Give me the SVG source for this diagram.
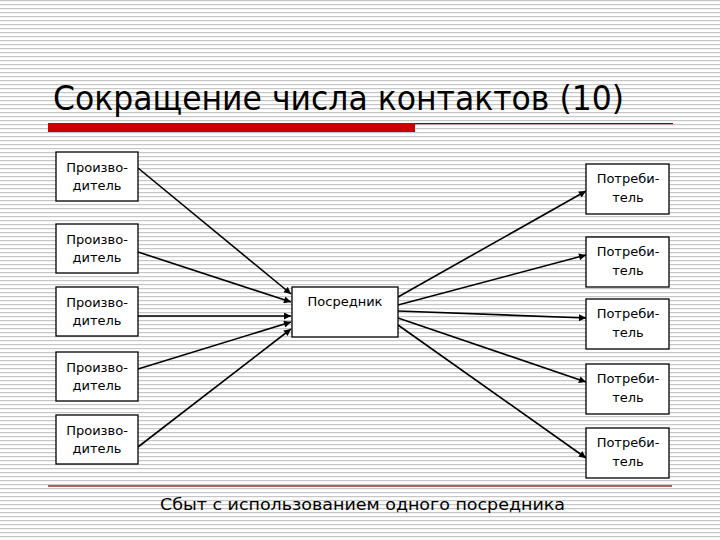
<svg xmlns="http://www.w3.org/2000/svg" width="720" height="540" viewBox="0 0 720 540">
<defs>
<pattern id="stripes" width="8" height="4" patternUnits="userSpaceOnUse">
<rect width="8" height="4" fill="#ffffff"/>
<rect y="0" width="8" height="1.2" fill="#c6c6c6"/>
</pattern>
<marker id="arr" viewBox="0 0 10 10" refX="10" refY="5" markerWidth="9" markerHeight="7" markerUnits="userSpaceOnUse" orient="auto">
<path d="M0,0 L10,5 L0,10 Z" fill="#000"/>
</marker>
<style>
.box{fill:#fff;stroke:#000;stroke-width:1.3}
.lbl{font-family:"DejaVu Sans","Noto Sans",sans-serif;font-size:13px;fill:#000;text-anchor:middle}
.con{stroke:#000;stroke-width:1.6;fill:none;marker-end:url(#arr)}
</style>
</defs>
<rect width="720" height="540" fill="url(#stripes)"/>
<text x="53" y="110" font-family="'DejaVu Sans','Noto Sans',sans-serif" font-size="34" fill="#000" textLength="571" lengthAdjust="spacingAndGlyphs">Сокращение числа контактов (10)</text>
<rect x="48" y="123" width="367" height="9" fill="#cc0000"/>
<rect x="415" y="123" width="258" height="1.2" fill="#800000"/>
<rect x="48" y="485.4" width="624" height="1.2" fill="#800000"/>

<g id="connectors">
<line class="con" x1="138" y1="168" x2="291" y2="294"/>
<line class="con" x1="138" y1="252" x2="291" y2="302"/>
<line class="con" x1="138" y1="316" x2="291" y2="316"/>
<line class="con" x1="138" y1="369" x2="291" y2="322"/>
<line class="con" x1="138" y1="447" x2="291" y2="329"/>
<line class="con" x1="398" y1="297" x2="586" y2="191"/>
<line class="con" x1="398" y1="305" x2="586" y2="255"/>
<line class="con" x1="398" y1="311" x2="586" y2="318"/>
<line class="con" x1="398" y1="318" x2="586" y2="382"/>
<line class="con" x1="398" y1="325" x2="586" y2="458"/>
</g>

<g id="prod1"><rect class="box" x="56" y="152" width="82" height="49"/><text class="lbl" x="97" y="172">Произво-</text><text class="lbl" x="97" y="190">дитель</text></g>
<g id="prod2"><rect class="box" x="56" y="224" width="82" height="49"/><text class="lbl" x="97" y="244">Произво-</text><text class="lbl" x="97" y="262">дитель</text></g>
<g id="prod3"><rect class="box" x="56" y="287" width="82" height="49"/><text class="lbl" x="97" y="307">Произво-</text><text class="lbl" x="97" y="325">дитель</text></g>
<g id="prod4"><rect class="box" x="56" y="352" width="82" height="49"/><text class="lbl" x="97" y="372">Произво-</text><text class="lbl" x="97" y="390">дитель</text></g>
<g id="prod5"><rect class="box" x="56" y="415" width="82" height="49"/><text class="lbl" x="97" y="435">Произво-</text><text class="lbl" x="97" y="453">дитель</text></g>

<g id="mediator"><rect class="box" x="292" y="287" width="106" height="50"/><text class="lbl" x="345" y="306">Посредник</text></g>

<g id="cons1"><rect class="box" x="586" y="164" width="83" height="50"/><text class="lbl" x="628" y="183">Потреби-</text><text class="lbl" x="628" y="202">тель</text></g>
<g id="cons2"><rect class="box" x="586" y="237" width="83" height="50"/><text class="lbl" x="628" y="256">Потреби-</text><text class="lbl" x="628" y="275">тель</text></g>
<g id="cons3"><rect class="box" x="586" y="299" width="83" height="50"/><text class="lbl" x="628" y="318">Потреби-</text><text class="lbl" x="628" y="337">тель</text></g>
<g id="cons4"><rect class="box" x="586" y="364" width="83" height="50"/><text class="lbl" x="628" y="383">Потреби-</text><text class="lbl" x="628" y="402">тель</text></g>
<g id="cons5"><rect class="box" x="586" y="428" width="83" height="50"/><text class="lbl" x="628" y="447">Потреби-</text><text class="lbl" x="628" y="466">тель</text></g>

<text x="160" y="510" font-family="'DejaVu Sans','Noto Sans',sans-serif" font-size="16" fill="#000" textLength="405" lengthAdjust="spacingAndGlyphs">Сбыт с использованием одного посредника</text>
</svg>
